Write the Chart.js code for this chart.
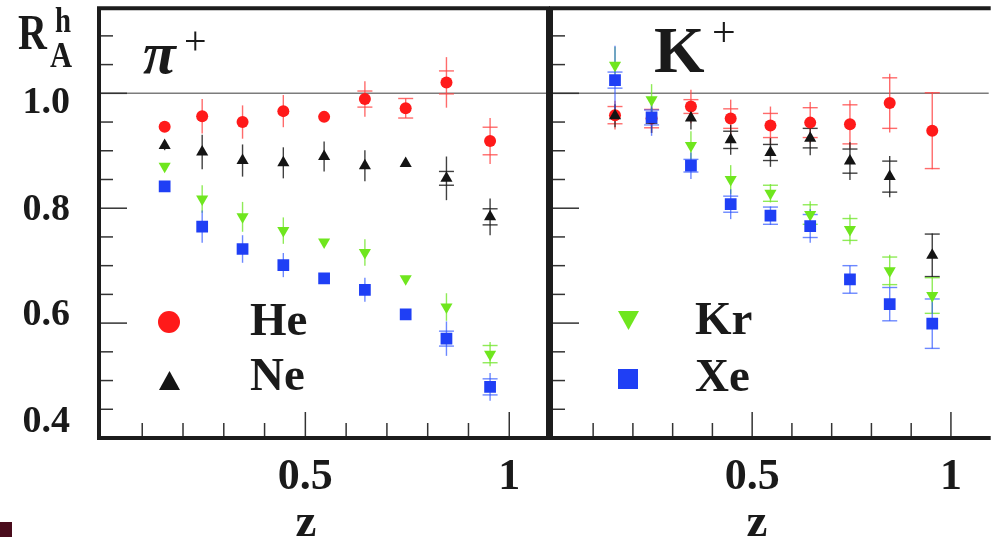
<!DOCTYPE html>
<html><head><meta charset="utf-8">
<script src="https://cdn.jsdelivr.net/npm/chart.js@4.4.1/dist/chart.umd.min.js"></script>
<style>
html,body{margin:0;padding:0;background:#fff;}
#wrap{position:relative;width:997px;height:537px;overflow:hidden;background:#fff;}
canvas{position:absolute;left:0;top:0;}
.t{position:absolute;font-family:"Liberation Serif","Times New Roman",serif;font-weight:bold;color:#1a1a1a;line-height:1;white-space:nowrap;}
.m{position:absolute;}
</style></head><body>
<div id="wrap">
<canvas id="cPi" width="997" height="537"></canvas>
<canvas id="cK" width="997" height="537"></canvas>

<div class="t" style="left:18px;top:7px;font-size:50px;transform:scaleX(0.8);transform-origin:0 0;">R</div>
<div class="t" style="left:55px;top:2px;font-size:36px;transform:scaleX(0.8);transform-origin:0 0;">h</div>
<div class="t" style="left:50px;top:37px;font-size:36px;transform:scaleX(0.85);transform-origin:0 0;">A</div>

<div class="t" style="left:143px;top:23px;font-size:60px;font-style:italic;">π</div>
<div class="t" style="left:184px;top:21px;font-size:40px;font-weight:normal;">+</div>
<div class="t" style="left:654px;top:18px;font-size:65px;">K</div>
<div class="t" style="left:712px;top:11px;font-size:42px;font-weight:normal;">+</div>

<div class="m" style="left:158px;top:311px;width:22px;height:22px;border-radius:50%;background:#ff1a1a;"></div>
<div class="m" style="left:159px;top:371px;width:21px;height:19px;background:#141414;clip-path:polygon(50% 0,100% 100%,0 100%);"></div>
<div class="m" style="left:618px;top:311px;width:21px;height:19px;background:#6fe61e;clip-path:polygon(0 0,100% 0,50% 100%);"></div>
<div class="m" style="left:618px;top:369px;width:20px;height:20px;background:#1f3ff5;"></div>

<div class="t" style="left:250px;top:296px;font-size:47px;">He</div>
<div class="t" style="left:250px;top:351px;font-size:47px;">Ne</div>
<div class="t" style="left:695px;top:295px;font-size:47px;">Kr</div>
<div class="t" style="left:695px;top:352px;font-size:47px;">Xe</div>

<div class="t" style="left:276px;top:497px;width:60px;text-align:center;font-size:47px;">z</div>
<div class="t" style="left:727px;top:497px;width:60px;text-align:center;font-size:47px;">z</div>

<div class="m" style="left:0;top:522px;width:12px;height:15px;background:#4a0c1c;"></div>
</div>
<script>
// ---- data ----
const zBins = [0.155, 0.247, 0.346, 0.446, 0.546, 0.646, 0.746, 0.846, 0.953];

const yTickValues = [0.4, 0.6, 0.8, 1.0];
const yTickText   = ['0.4', '0.6', '0.8', '1.0'];
const xTickValues = [0.5, 1.0];
const xTickText   = ['0.5', '1'];

// pi+
const piHe     = [0.942, 0.960, 0.950, 0.969, 0.959, 0.990, 0.974, 1.019, 0.917];
const piHeStat = [0.009, 0.030, 0.029, 0.028, 0.009, 0.031, 0.017, 0.044, 0.040];
const piHeSys  = [0, 0, 0, 0, 0, 0.014, 0.017, 0.020, 0.024];
const piNe     = [0.909, 0.898, 0.883, 0.879, 0.890, 0.874, 0.878, 0.852, 0.785];
const piNeStat = [0.008, 0.030, 0.028, 0.027, 0.026, 0.027, 0.005, 0.038, 0.032];
const piNeSys  = [0, 0, 0, 0, 0, 0, 0, 0.012, 0.014];
const piKr     = [0.873, 0.816, 0.785, 0.761, 0.741, 0.723, 0.677, 0.628, 0.546];
const piKrStat = [0.005, 0.024, 0.026, 0.023, 0.005, 0.023, 0.004, 0.024, 0.021];
const piKrSys  = [0, 0, 0, 0, 0, 0, 0, 0, 0.015];
const piXe     = [0.838, 0.768, 0.729, 0.701, 0.678, 0.658, 0.615, 0.573, 0.489];
const piXeStat = [0.004, 0.028, 0.024, 0.021, 0.006, 0.021, 0.004, 0.030, 0.024];
const piXeSys  = [0, 0, 0, 0, 0, 0, 0, 0.013, 0.014];

// K+
const kHe     = [0.962, 0.956, 0.977, 0.956, 0.944, 0.949, 0.946, 0.983, 0.935];
const kHeStat = [0.025, 0.025, 0.029, 0.033, 0.033, 0.036, 0.042, 0.051, 0.067];
const kHeSys  = [0.015, 0.016, 0.012, 0.017, 0.021, 0.026, 0.034, 0.044, 0.066];
const kNe     = [0.961, 0.953, 0.957, 0.919, 0.897, 0.922, 0.882, 0.855, 0.718];
const kNeStat = [0.020, 0.022, 0.020, 0.026, 0.025, 0.030, 0.033, 0.036, 0.038];
const kNeSys  = [0, 0, 0, 0.015, 0.014, 0.017, 0.021, 0.027, 0.037];
const kKr     = [1.049, 0.989, 0.909, 0.850, 0.826, 0.789, 0.763, 0.691, 0.648];
const kKrStat = [0.032, 0.027, 0.025, 0.025, 0.016, 0.023, 0.026, 0.028, 0.031];
const kKrSys  = [0, 0, 0, 0, 0.014, 0.017, 0.019, 0.024, 0.031];
const kXe     = [1.023, 0.958, 0.874, 0.807, 0.787, 0.769, 0.676, 0.633, 0.599];
const kXeStat = [0.060, 0.032, 0.023, 0.026, 0.016, 0.029, 0.024, 0.029, 0.043];
const kXeSys  = [0.014, 0.013, 0.011, 0.014, 0.015, 0.020, 0.024, 0.029, 0.043];

// ---- styling / layout ----
const X_MIN = -0.006, X_MAX = 1.095, Y_MIN = 0.4, Y_MAX = 1.148;
const Y_LABEL_SHIFT = [-16, -8, 2, 10];
const LH = 2;
const FONT = '"Liberation Serif", "Times New Roman", serif';

const styles = {
  He: {color: '#ff1a1a', err: 'rgba(255,70,70,0.8)', style: 'circle', r: 6, rot: 0, order: 4},
  Ne: {color: '#141414', err: 'rgba(30,30,30,0.85)', style: 'triangle', r: 7, rot: 0, order: 3},
  Kr: {color: '#6fe61e', err: 'rgba(115,230,45,0.8)', style: 'triangle', r: 7, rot: 180, order: 2},
  Xe: {color: '#1f3ff5', err: 'rgba(45,85,255,0.7)', style: 'rect', r: 8.3, rot: 0, order: 1}
};

function makeSet(name, vals, stat, sys) {
  const s = styles[name];
  return {
    label: name,
    data: zBins.map((z, i) => ({x: z, y: vals[i], stat: stat[i], sys: sys[i]})),
    pointStyle: s.style, pointRadius: s.r, pointRotation: s.rot,
    pointBackgroundColor: s.color, pointBorderColor: s.color, pointBorderWidth: 0,
    showLine: false, order: s.order, errColor: s.err
  };
}

function near(a, b) { return Math.abs(a - b) < 1e-6; }

function shifted(text, dy) {
  const n = 1 + Math.round(Math.abs(dy) * 2 / LH);
  if (n === 1) return text;
  const arr = new Array(n).fill('');
  arr[dy >= 0 ? n - 1 : 0] = text;
  return arr;
}

const panelPlugin = {
  id: 'panel',
  beforeDatasetsDraw(chart) {
    const {ctx, chartArea: a, scales: {x, y}} = chart;
    ctx.save();
    ctx.strokeStyle = '#7c7c7c'; ctx.lineWidth = 1.6;
    const y1 = y.getPixelForValue(1.0);
    ctx.beginPath(); ctx.moveTo(a.left, y1); ctx.lineTo(a.right, y1); ctx.stroke();
    chart.data.datasets.forEach((ds, i) => {
      const meta = chart.getDatasetMeta(i);
      ctx.strokeStyle = ds.errColor; ctx.lineWidth = 1.4;
      ds.data.forEach((p, j) => {
        const px = meta.data[j].x;
        if (p.stat > 0) {
          ctx.beginPath();
          ctx.moveTo(px, y.getPixelForValue(p.y + p.stat));
          ctx.lineTo(px, y.getPixelForValue(p.y - p.stat));
          ctx.stroke();
        }
        if (p.sys > 0) {
          [p.y + p.sys, p.y - p.sys].forEach(v => {
            const py = y.getPixelForValue(v);
            ctx.beginPath(); ctx.moveTo(px - 7.5, py); ctx.lineTo(px + 7.5, py); ctx.stroke();
          });
        }
      });
    });
    ctx.restore();
  },
  afterDraw(chart, args, opts) {
    const {ctx, chartArea: a, scales: {x, y}} = chart;
    ctx.save();
    ctx.strokeStyle = '#333'; ctx.lineWidth = 1.5;
    y.ticks.forEach(t => {
      const v = t.value;
      if (!near(v * 20, Math.round(v * 20))) return;
      const py = y.getPixelForValue(v);
      if (py <= a.top + 3 || py >= a.bottom - 3) return;
      const len = near(v * 5, Math.round(v * 5)) ? 28 : 14;
      ctx.beginPath(); ctx.moveTo(a.left, py); ctx.lineTo(a.left + len, py); ctx.stroke();
    });
    x.ticks.forEach(t => {
      const v = t.value;
      if (!near(v * 10, Math.round(v * 10))) return;
      const px = x.getPixelForValue(v);
      if (px <= a.left + 3 || px >= a.right - 3) return;
      const len = near(v * 2, Math.round(v * 2)) ? 26 : 15;
      ctx.beginPath(); ctx.moveTo(px, a.bottom); ctx.lineTo(px, a.bottom - len); ctx.stroke();
    });
    ctx.strokeStyle = '#1c1c1c'; ctx.lineWidth = 4;
    ctx.beginPath();
    if (opts.rightBorder) {
      ctx.rect(a.left, a.top, a.right - a.left, a.bottom - a.top);
    } else {
      ctx.moveTo(a.right + 2, a.top); ctx.lineTo(a.left, a.top);
      ctx.lineTo(a.left, a.bottom); ctx.lineTo(a.right + 2, a.bottom);
    }
    ctx.stroke();
    ctx.restore();
  }
};

function makeChart(id, sets, yWidth, rightPad, showY, rightBorder) {
  return new Chart(document.getElementById(id), {
    type: 'scatter',
    data: {datasets: sets},
    options: {
      responsive: false, animation: false, devicePixelRatio: 1, events: [],
      layout: {padding: {left: 0, top: 8, right: rightPad, bottom: 0}},
      plugins: {legend: {display: false}, tooltip: {enabled: false}, panel: {rightBorder}},
      scales: {
        x: {
          type: 'linear', position: 'bottom', min: X_MIN, max: X_MAX,
          grid: {display: false, drawTicks: false}, border: {display: false},
          ticks: {
            stepSize: 0.1, autoSkip: false, includeBounds: false, maxRotation: 0, minRotation: 0,
            padding: 18, color: '#1a1a1a',
            font: {family: FONT, weight: 'bold', size: 44, lineHeight: 1},
            callback: v => { const k = xTickValues.findIndex(t => near(t, v)); return k >= 0 ? xTickText[k] : ''; }
          },
          afterFit(s) { s.height = 99; s.paddingLeft = 0; s.paddingRight = 0; }
        },
        y: {
          type: 'linear', position: 'left', min: Y_MIN, max: Y_MAX,
          grid: {display: false, drawTicks: false}, border: {display: false},
          ticks: {
            display: showY, stepSize: 0.05, autoSkip: false, includeBounds: false,
            padding: 29, color: '#1a1a1a',
            font: {family: FONT, weight: 'bold', size: 38, lineHeight: LH + 'px'},
            callback: v => { const k = yTickValues.findIndex(t => near(t, v)); return k >= 0 ? shifted(yTickText[k], Y_LABEL_SHIFT[k]) : ''; }
          },
          afterFit(s) { s.width = yWidth; s.paddingTop = 0; s.paddingBottom = 0; }
        }
      }
    },
    plugins: [panelPlugin]
  });
}

makeChart('cPi', [
  makeSet('He', piHe, piHeStat, piHeSys),
  makeSet('Ne', piNe, piNeStat, piNeSys),
  makeSet('Kr', piKr, piKrStat, piKrSys),
  makeSet('Xe', piXe, piXeStat, piXeSys)
], 99, 449, true, true);

makeChart('cK', [
  makeSet('He', kHe, kHeStat, kHeSys),
  makeSet('Ne', kNe, kNeStat, kNeSys),
  makeSet('Kr', kKr, kKrStat, kKrSys),
  makeSet('Xe', kXe, kXeStat, kXeSys)
], 551, 0, false, false);
</script>
</body></html>
